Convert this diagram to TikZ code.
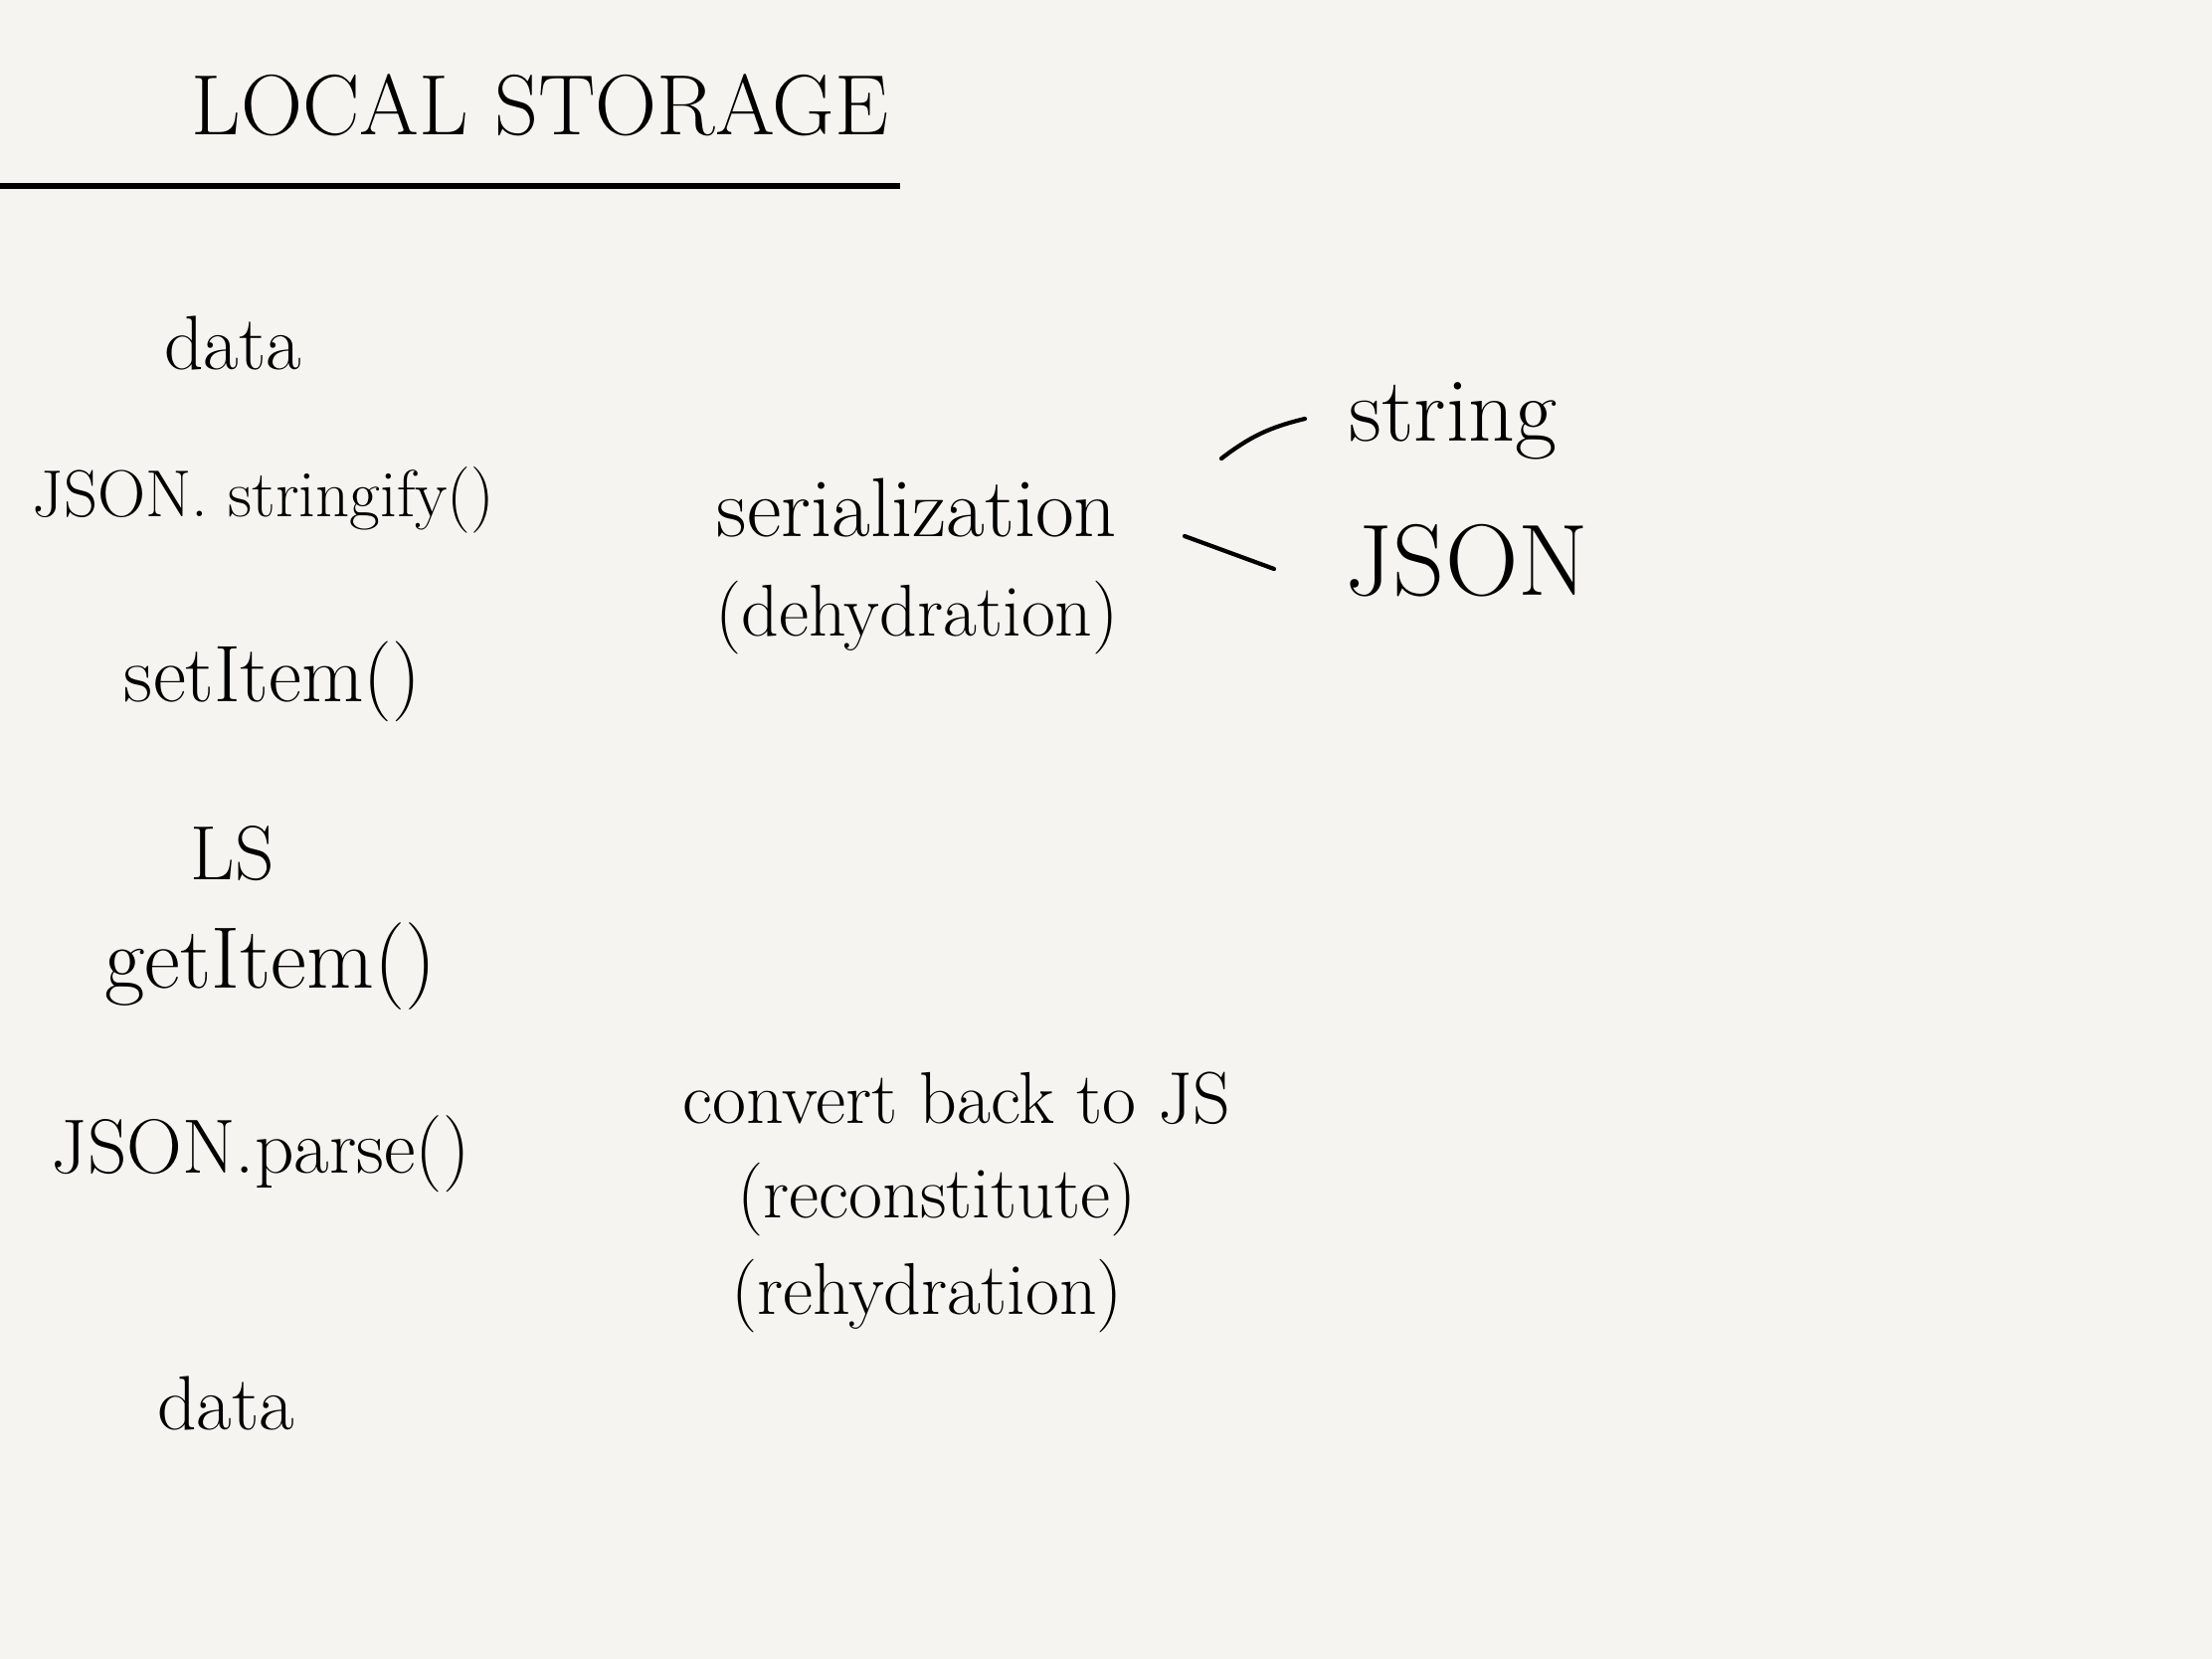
\documentclass[tikz,border=0pt]{standalone}
\usepackage{tikz}
\usetikzlibrary{positioning, calc}

\definecolor{paper}{HTML}{F5F4F0}

\begin{document}
\begin{tikzpicture}[
      node distance=0.2cm and 1cm,
      title/.style={font=\fontsize{24.5}{29}\selectfont, inner sep=0pt},
      note/.style={font=\fontsize{19}{23}\selectfont, inner sep=1pt},
      mid/.style={font=\fontsize{21}{25}\selectfont, inner sep=1pt},
      big/.style={font=\fontsize{26}{30}\selectfont, inner sep=1pt},
      pen/.style={line width=1.2pt, line cap=round}
    ]
    \fill[paper] (0,0) rectangle (22.24,-16.68);
    \useasboundingbox (0,0) rectangle (22.24,-16.68);

    \node[title] (head) at (5.43,-1.06) {LOCAL STORAGE};
    \coordinate (rule_l) at (0,-1.87);
    \coordinate (rule_r) at (9.05,-1.87);
    \draw[pen, line width=1.8pt, line cap=butt] (rule_l) -- (rule_r);

    % left column
    \node[note, font=\fontsize{22}{26}\selectfont] (data_in) at (2.34,-3.45) {data};
    \node[note] (stringify) at (2.65,-5.03) {JSON. stringify()};
    \node[note, font=\fontsize{23}{27}\selectfont] (set_item) at (2.74,-6.85) {setItem()};
    \node[note, font=\fontsize{22}{26}\selectfont] (ls) at (2.34,-8.58) {LS};
    \node[note, font=\fontsize{25}{29}\selectfont] (get_item) at (2.72,-9.72) {getItem()};
    \node[note, font=\fontsize{22}{26}\selectfont] (parse) at (2.62,-11.60) {JSON.parse()};
    \node[note, font=\fontsize{22}{26}\selectfont] (data_out) at (2.27,-14.11) {data};

    % middle
    \node[mid, font=\fontsize{24}{28}\selectfont] (serial) at (9.22,-5.11) {serialization};
    \node[mid, below=0.35cm of serial] (dehyd) {(dehydration)};
    \node[mid] (convert) at (9.62,-11.04) {convert back to JS};
    \node[mid, below=0.3cm of convert, xshift=-0.2cm] (recon) {(reconstitute)};
    \node[mid, below=0.15cm of recon, xshift=-0.1cm] (rehyd) {(rehydration)};

    % right
    \node[big] (str) at (14.61,-4.23) {string};
    \node[big, font=\fontsize{29}{33}\selectfont] (json) at (14.75,-5.64) {JSON};

    \coordinate (up_a) at (12.28,-4.61);
    \coordinate (up_b) at (13.12,-4.21);
    \coordinate (lo_a) at (11.91,-5.39);
    \coordinate (lo_b) at (12.81,-5.72);
    \draw[pen] (up_a) to[bend left=12] (up_b);
    \draw[pen] (lo_a) -- (lo_b);
  \end{tikzpicture}
\end{document}
